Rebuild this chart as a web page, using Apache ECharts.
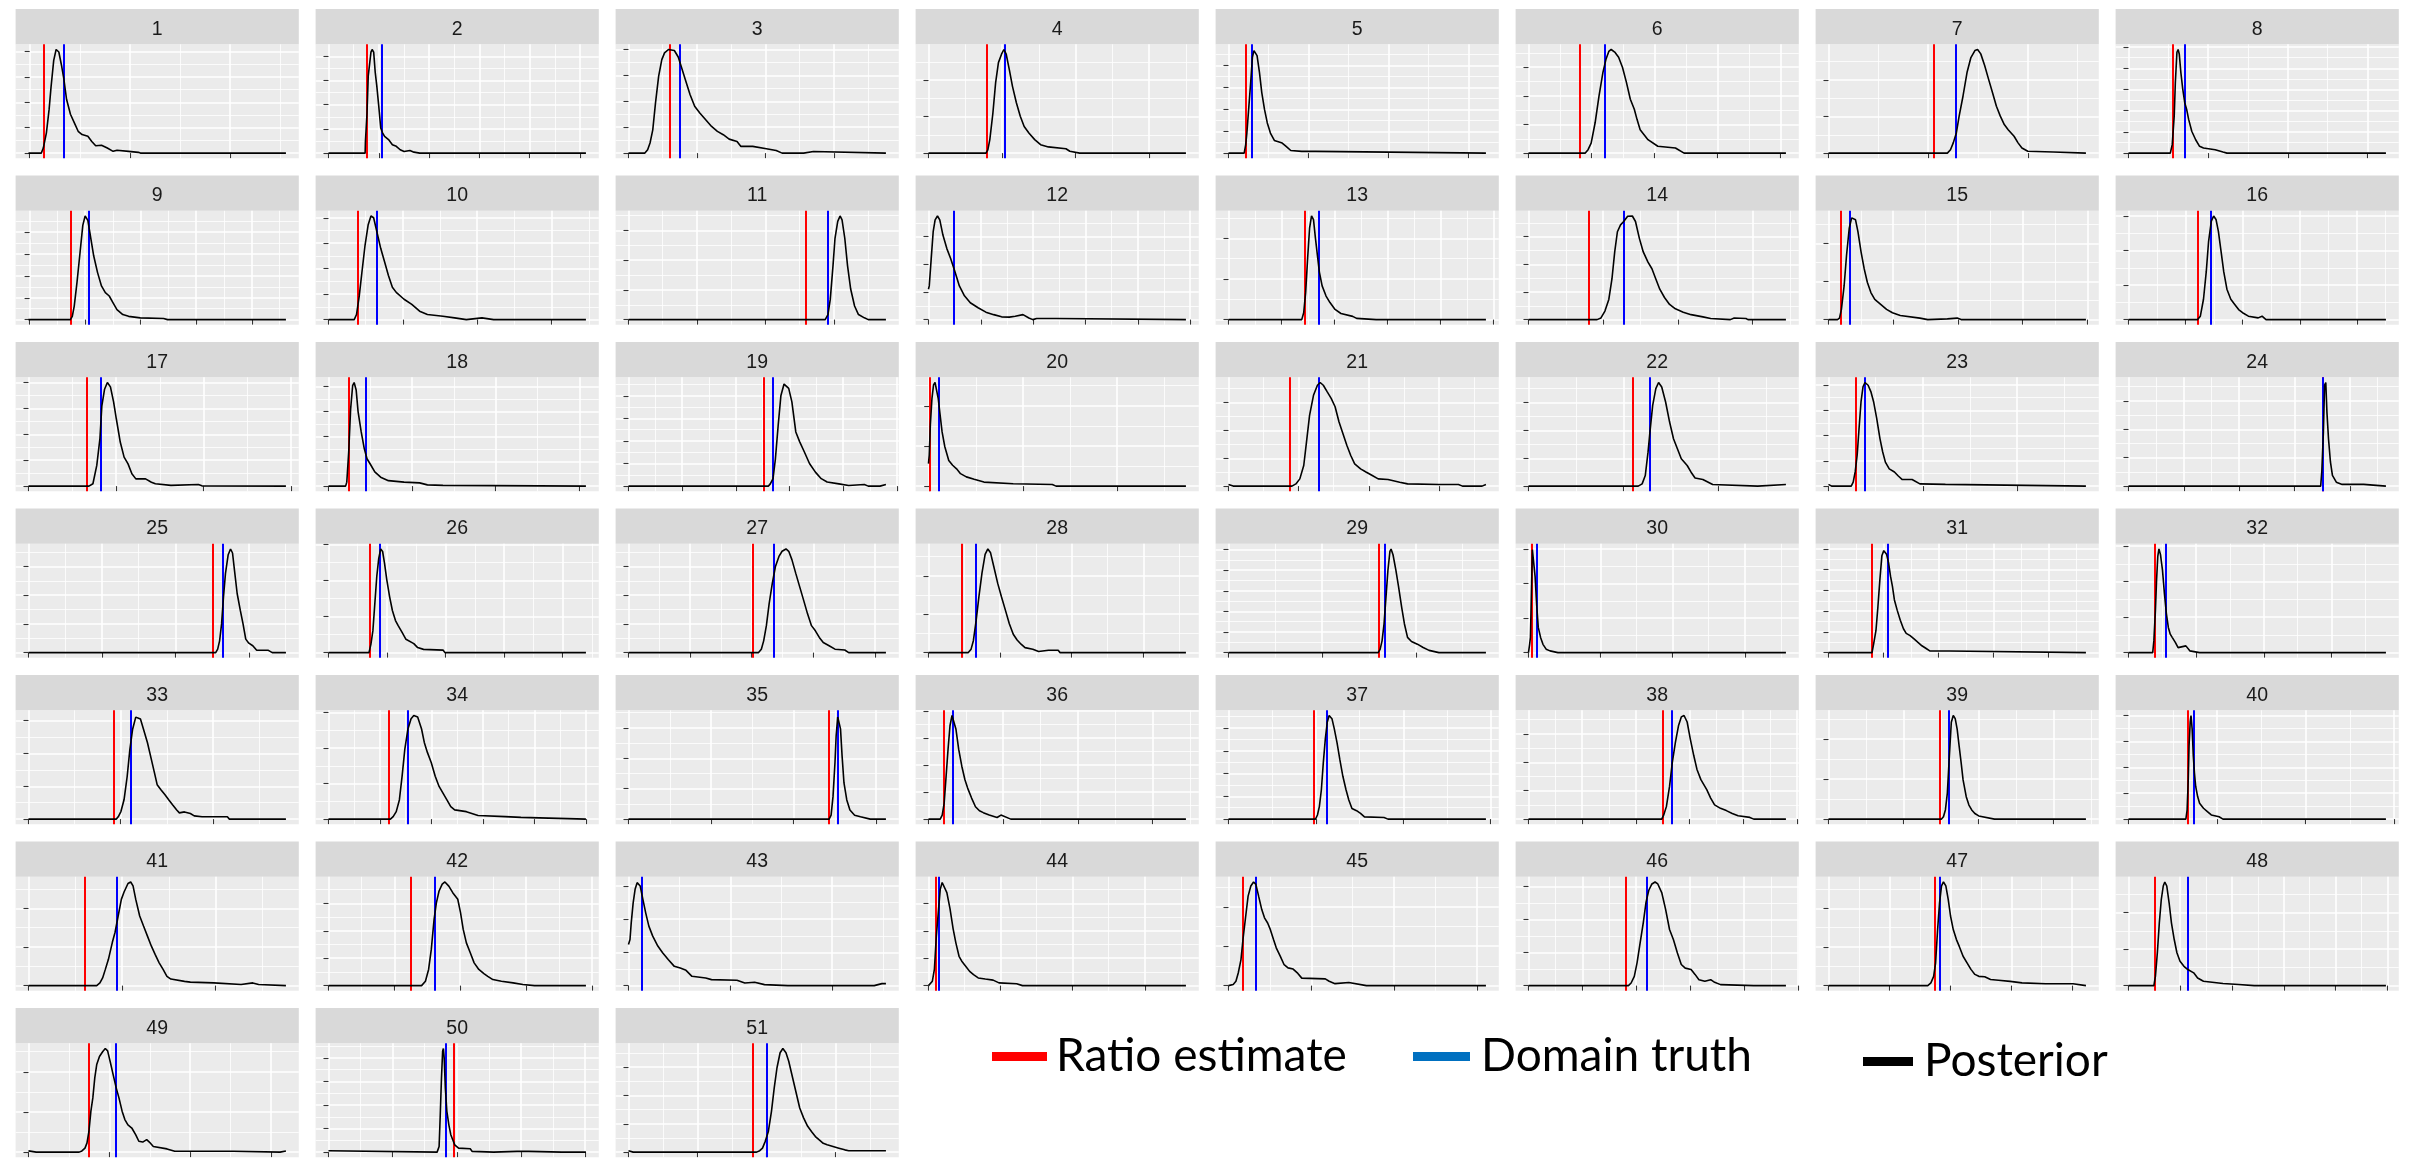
<!DOCTYPE html>
<html><head><meta charset="utf-8">
<script src="https://cdn.jsdelivr.net/npm/echarts@6/dist/echarts.min.js"></script>
<style>html,body{margin:0;padding:0;background:#fff}#chart{width:2414px;height:1163px}</style>
</head><body><div id="chart"></div>
<script>
// ---- DATA (x in units of each panel's x tick spacing, y in units of its y tick spacing) ----
const panelLabels = ['1','2','3','4','5','6','7','8','9','10','11','12','13','14','15','16','17','18','19','20','21','22','23','24','25','26','27','28','29','30','31','32','33','34','35','36','37','38','39','40','41','42','43','44','45','46','47','48','49','50','51'];
const legendLabels = ['Ratio estimate', 'Domain truth', 'Posterior'];
const ratioEstimate = [0.136,0.767,0.612,0.786,0.215,0.815,1.063,0.564,0.741,0.398,2.593,null,1.442,0.813,0.188,1.224,0.655,0.238,2.518,0.008,0.866,1.097,0.295,3.506,2.512,0.712,2.016,0.464,1.598,0.043,0.791,0.387,0.918,1.172,2.43,0.2,0.982,2.496,1.476,0.666,0.596,1.249,null,0.098,0.166,1.796,1.739,0.506,0.748,1.954,1.798];
const domainTruth = [0.337,1.047,0.75,1.041,0.289,1.213,1.283,0.706,1.056,0.649,2.914,0.485,1.701,1.269,0.333,1.436,0.834,0.438,2.693,0.096,1.285,1.278,0.378,3.506,2.639,0.872,2.347,0.655,1.665,0.114,1.077,0.554,1.108,1.528,2.53,0.33,1.126,2.672,1.597,0.737,0.938,1.621,0.131,0.141,0.327,2.196,1.823,1.14,1.085,1.833,2.002];

const post1 = [[-0.012,0],[0.116,0],[0.136,0.2],[0.167,0.8],[0.194,1.72],[0.213,2.59],[0.240,3.65],[0.264,4.08],[0.291,3.98],[0.318,3.45],[0.341,2.92],[0.368,2.12],[0.407,1.53],[0.446,1.19],[0.484,0.86],[0.523,0.73],[0.581,0.66],[0.620,0.46],[0.659,0.29],[0.717,0.31],[0.775,0.2],[0.833,0.07],[0.872,0.11],[0.988,0.07],[1.085,0.03],[1.105,0],[2.558,0]];
const post2 = [[0,0],[0.729,0],[0.735,0.49],[0.767,1.67],[0.791,3.19],[0.845,4.17],[0.868,4.28],[0.899,4.17],[0.930,3.33],[0.961,2.78],[1.0,1.94],[1.039,1.04],[1.078,0.83],[1.116,0.69],[1.194,0.56],[1.271,0.35],[1.349,0.28],[1.426,0.14],[1.504,0.07],[1.62,0.11],[1.70,0.04],[1.814,0],[5.12,0]];
const post3 = [[0,0],[0.24,0],[0.28,0.13],[0.315,0.39],[0.355,0.9],[0.395,1.94],[0.441,2.97],[0.487,3.61],[0.527,3.87],[0.584,4.0],[0.67,3.96],[0.727,3.71],[0.773,3.32],[0.83,2.84],[0.899,2.26],[0.967,1.81],[1.042,1.55],[1.128,1.29],[1.214,1.03],[1.299,0.84],[1.385,0.71],[1.471,0.54],[1.586,0.45],[1.643,0.26],[1.815,0.26],[2.015,0.17],[2.158,0.1],[2.244,0],[2.559,0],[2.587,0.06],[2.702,0.06],[2.73,0],[3.761,0]];
const post4 = [[0,0],[0.781,0],[0.807,0.09],[0.834,0.37],[0.876,1.1],[0.913,1.93],[0.951,2.48],[0.993,2.71],[1.025,2.84],[1.057,2.71],[1.099,2.29],[1.142,1.83],[1.195,1.38],[1.248,1.01],[1.301,0.73],[1.365,0.55],[1.444,0.37],[1.524,0.23],[1.63,0.17],[1.869,0.12],[1.922,0.05],[2.055,0],[3.5,0]];
const post5 = [[0,0],[0.196,0],[0.215,0.38],[0.23,0.92],[0.255,2.15],[0.279,3.31],[0.299,4.38],[0.318,4.69],[0.338,4.74],[0.357,4.46],[0.387,3.69],[0.416,2.77],[0.45,2.0],[0.485,1.38],[0.524,0.92],[0.573,0.58],[0.671,0.46],[0.72,0.31],[0.778,0.12],[0.915,0.08],[1.087,0.08],[1.111,0],[3.216,0]];
const post6 = [[0,0],[0.902,0],[0.946,0.12],[0.995,0.35],[1.058,1.06],[1.12,2.0],[1.182,2.82],[1.232,3.29],[1.275,3.55],[1.313,3.62],[1.369,3.53],[1.431,3.35],[1.493,2.99],[1.555,2.47],[1.617,1.88],[1.68,1.53],[1.723,1.18],[1.773,0.82],[1.897,0.47],[2.053,0.24],[2.333,0.18],[2.47,0],[4.087,0]];
const post7 = [[0,0],[1.193,0],[1.224,0.09],[1.252,0.28],[1.283,0.55],[1.311,1.01],[1.35,1.56],[1.39,2.2],[1.429,2.61],[1.469,2.8],[1.496,2.83],[1.528,2.71],[1.567,2.39],[1.606,2.02],[1.646,1.65],[1.685,1.28],[1.724,1.01],[1.764,0.78],[1.803,0.64],[1.862,0.46],[1.902,0.28],[1.941,0.14],[2.0,0.05],[2.256,0.03],[2.276,0],[2.583,0]];
const post8 = [[0,0],[0.525,0],[0.549,0.4],[0.574,1.75],[0.588,3.33],[0.608,4.76],[0.623,4.89],[0.637,4.68],[0.657,3.81],[0.681,3.02],[0.706,2.38],[0.73,2.06],[0.755,1.59],[0.794,1.03],[0.843,0.63],[0.892,0.32],[0.941,0.24],[1.088,0.16],[1.186,0.05],[1.235,0],[3.23,0]];
const post9 = [[-0.02,0],[0.734,0],[0.769,0.15],[0.804,0.62],[0.853,1.69],[0.909,3.08],[0.958,4.31],[1.0,4.74],[1.049,4.54],[1.084,4.0],[1.154,2.92],[1.224,2.15],[1.294,1.54],[1.364,1.23],[1.434,1.08],[1.503,0.77],[1.573,0.46],[1.678,0.23],[1.783,0.15],[1.993,0.08],[2.413,0.05],[2.483,0],[4.615,0]];
const post10 = [[0,0],[0.346,0],[0.377,0.2],[0.414,0.93],[0.45,1.87],[0.492,2.93],[0.534,3.73],[0.571,4.07],[0.607,4.0],[0.649,3.47],[0.702,2.8],[0.754,2.27],[0.806,1.73],[0.859,1.27],[0.911,1.07],[1.016,0.8],[1.12,0.6],[1.225,0.33],[1.33,0.2],[1.539,0.13],[1.696,0.07],[1.853,0],[2.063,0.07],[2.22,0],[3.461,0]];
const post11 = [[0,0],[2.874,0],[2.914,0.17],[2.948,0.68],[2.988,1.82],[3.017,2.74],[3.057,3.31],[3.091,3.49],[3.12,3.36],[3.16,2.74],[3.2,1.82],[3.246,1.03],[3.303,0.46],[3.36,0.17],[3.446,0.06],[3.503,0],[3.761,0]];
const post12 = [[0,1.1],[0.015,1.22],[0.052,2.2],[0.09,3.18],[0.127,3.61],[0.172,3.75],[0.216,3.61],[0.276,3.06],[0.351,2.57],[0.425,2.2],[0.5,1.77],[0.59,1.22],[0.687,0.86],[0.799,0.61],[0.948,0.43],[1.097,0.27],[1.246,0.18],[1.396,0.1],[1.545,0.09],[1.657,0.12],[1.806,0.18],[1.918,0.06],[1.993,0],[2.067,0.04],[2.44,0.04],[2.478,0],[4.918,0]];
const post13 = [[0,0],[1.383,0],[1.42,0.17],[1.457,0.67],[1.494,1.5],[1.531,2.25],[1.568,2.55],[1.605,2.46],[1.642,2.0],[1.679,1.58],[1.716,1.17],[1.768,0.83],[1.842,0.58],[1.916,0.42],[2.012,0.25],[2.123,0.15],[2.345,0.08],[2.419,0.03],[2.788,0],[4.86,0]];
const post14 = [[0,0],[0.918,0],[0.97,0.06],[1.023,0.31],[1.075,0.73],[1.117,1.47],[1.154,2.45],[1.19,3.18],[1.232,3.43],[1.274,3.55],[1.327,3.74],[1.39,3.75],[1.432,3.55],[1.484,2.94],[1.536,2.45],[1.599,2.08],[1.652,1.84],[1.704,1.47],[1.757,1.1],[1.82,0.8],[1.888,0.55],[1.966,0.39],[2.071,0.27],[2.176,0.18],[2.334,0.1],[2.438,0.04],[2.701,0],[2.753,0.06],[2.91,0.04],[2.937,0],[3.445,0]];
const post15 = [[0,0],[0.139,0],[0.17,0.04],[0.2,0.27],[0.242,0.89],[0.279,1.69],[0.321,2.4],[0.358,2.67],[0.382,2.72],[0.418,2.62],[0.455,2.31],[0.503,1.78],[0.552,1.33],[0.6,0.98],[0.655,0.71],[0.715,0.53],[0.806,0.4],[0.897,0.27],[0.988,0.18],[1.109,0.11],[1.412,0.04],[1.533,0],[1.836,0.02],[1.988,0.04],[2.048,0],[3.976,0]];
const post16 = [[0,0],[1.21,0],[1.258,0.1],[1.313,0.59],[1.361,1.38],[1.402,2.26],[1.45,2.85],[1.491,3.0],[1.532,2.9],[1.573,2.56],[1.621,1.97],[1.668,1.38],[1.723,0.88],[1.791,0.59],[1.86,0.44],[1.928,0.29],[1.997,0.2],[2.099,0.1],[2.27,0.05],[2.338,0.1],[2.407,0],[4.506,0]];
const post17 = [[0,0],[0.691,0],[0.736,0.09],[0.78,0.8],[0.816,1.83],[0.838,3.1],[0.869,3.74],[0.901,4.0],[0.936,3.83],[0.972,3.25],[1.003,2.6],[1.048,1.7],[1.092,1.12],[1.137,0.86],[1.181,0.48],[1.226,0.28],[1.337,0.28],[1.404,0.15],[1.449,0.09],[1.627,0.03],[1.94,0.06],[1.98,0.01],[2.94,0]];
const post18 = [[0,0],[0.205,0],[0.219,0.16],[0.242,1.37],[0.265,3.1],[0.289,4.04],[0.307,4.17],[0.331,3.87],[0.354,3.0],[0.391,2.19],[0.428,1.51],[0.461,1.1],[0.508,0.84],[0.554,0.57],[0.624,0.36],[0.717,0.22],[0.904,0.16],[1.09,0.13],[1.183,0.05],[1.369,0.03],[3.079,0]];
const post19 = [[0,0],[2.606,0],[2.642,0.1],[2.693,0.33],[2.737,1.2],[2.788,2.67],[2.839,4.0],[2.898,4.52],[2.934,4.59],[2.985,4.33],[3.044,3.73],[3.117,2.4],[3.19,1.96],[3.277,1.51],[3.372,1.0],[3.482,0.62],[3.591,0.33],[3.701,0.18],[3.92,0.1],[4.102,0.03],[4.394,0.07],[4.467,0],[4.686,0],[4.796,0.07]];
const post20 = [[-0.008,0.56],[0,0.77],[0.012,1.52],[0.029,2.18],[0.046,2.52],[0.062,2.58],[0.083,2.56],[0.096,2.18],[0.112,1.85],[0.137,1.35],[0.166,0.98],[0.208,0.64],[0.249,0.52],[0.291,0.43],[0.333,0.31],[0.395,0.23],[0.478,0.17],[0.582,0.1],[0.894,0.06],[1.31,0.04],[1.35,0],[2.732,0]];
const post21 = [[0,0.06],[0.067,0],[0.905,0],[0.961,0.08],[1.017,0.26],[1.073,0.74],[1.112,1.58],[1.156,2.54],[1.212,3.26],[1.268,3.62],[1.307,3.72],[1.352,3.62],[1.408,3.38],[1.464,3.15],[1.52,2.85],[1.575,2.31],[1.631,1.89],[1.687,1.47],[1.743,1.1],[1.799,0.8],[1.883,0.62],[1.966,0.5],[2.05,0.38],[2.134,0.26],[2.274,0.24],[2.441,0.14],[2.553,0.08],[3.0,0.06],[3.279,0.06],[3.335,0],[3.615,0],[3.67,0.06]];
const post22 = [[0,0],[1.155,0],[1.196,0.08],[1.229,0.38],[1.258,1.22],[1.278,1.94],[1.307,2.9],[1.34,3.5],[1.369,3.72],[1.402,3.56],[1.443,3.02],[1.485,2.3],[1.526,1.7],[1.567,1.34],[1.608,0.98],[1.67,0.74],[1.711,0.5],[1.753,0.29],[1.835,0.24],[1.938,0.06],[2.412,0],[2.709,0.06]];
const post23 = [[0,0.07],[0.033,0],[0.241,0],[0.262,0.16],[0.283,0.56],[0.304,1.22],[0.324,2.28],[0.345,3.34],[0.366,3.93],[0.387,4.1],[0.42,3.99],[0.449,3.74],[0.478,3.34],[0.511,2.68],[0.545,1.89],[0.574,1.36],[0.603,0.95],[0.644,0.68],[0.699,0.56],[0.74,0.4],[0.782,0.26],[0.886,0.26],[0.969,0.09],[1.239,0.07],[1.26,0],[2.728,0]];
const post24 = [[0,0],[3.471,0],[3.492,0.55],[3.52,1.91],[3.541,3.56],[3.563,3.65],[3.584,2.59],[3.612,1.67],[3.647,0.85],[3.683,0.38],[3.753,0.14],[3.859,0.06],[4.247,0.06],[4.282,0],[4.649,0]];
const post25 = [[0,0],[2.549,0],[2.576,0.12],[2.602,0.41],[2.629,1.0],[2.655,1.94],[2.682,2.76],[2.719,3.41],[2.751,3.61],[2.778,3.47],[2.804,2.88],[2.841,2.06],[2.884,1.47],[2.921,1.0],[2.958,0.47],[3.0,0.33],[3.054,0.24],[3.107,0.08],[3.266,0.08],[3.319,0],[3.505,0]];
const post26 = [[0,0],[0.692,0],[0.725,0.23],[0.759,0.61],[0.792,1.36],[0.825,2.11],[0.859,2.62],[0.892,2.88],[0.925,2.81],[0.958,2.48],[0.998,2.01],[1.045,1.55],[1.092,1.17],[1.145,0.89],[1.191,0.75],[1.258,0.56],[1.324,0.37],[1.458,0.25],[1.524,0.14],[1.624,0.09],[1.957,0.07],[1.99,0],[4.399,0]];
const post27 = [[0,0],[2.111,0],[2.156,0.12],[2.194,0.41],[2.238,0.94],[2.283,1.71],[2.334,2.41],[2.385,3.0],[2.442,3.35],[2.493,3.53],[2.556,3.61],[2.601,3.53],[2.652,3.24],[2.715,2.76],[2.779,2.29],[2.843,1.82],[2.906,1.35],[2.97,0.94],[3.033,0.76],[3.097,0.53],[3.161,0.35],[3.256,0.24],[3.351,0.12],[3.51,0.09],[3.574,0],[4.178,0]];
const post28 = [[0,0],[0.556,0],[0.595,0.09],[0.627,0.31],[0.666,0.84],[0.704,1.45],[0.747,2.07],[0.791,2.56],[0.829,2.7],[0.867,2.6],[0.911,2.25],[0.966,1.81],[1.02,1.45],[1.075,1.1],[1.129,0.75],[1.184,0.48],[1.238,0.33],[1.293,0.22],[1.348,0.13],[1.457,0.09],[1.538,0.03],[1.675,0.06],[1.811,0.06],[1.838,0],[3.595,0]];
const post29 = [[0,0],[1.598,0],[1.619,0.16],[1.64,0.57],[1.661,1.39],[1.682,2.7],[1.703,4.02],[1.724,4.92],[1.736,5.03],[1.757,4.75],[1.787,4.02],[1.816,3.2],[1.849,2.21],[1.879,1.39],[1.912,0.74],[1.954,0.54],[2.017,0.41],[2.079,0.25],[2.142,0.11],[2.247,0],[2.749,0]];
const post30 = [[0,0],[0.016,0.24],[0.027,0.44],[0.043,1.91],[0.054,2.98],[0.071,3.0],[0.092,2.2],[0.114,1.37],[0.136,0.73],[0.168,0.44],[0.201,0.24],[0.245,0.1],[0.299,0.05],[0.408,0],[3.571,0]];
const post31 = [[0,0],[0.791,0],[0.82,0.41],[0.863,1.07],[0.898,2.21],[0.934,3.52],[0.97,4.67],[1.005,4.92],[1.027,5.0],[1.055,4.75],[1.091,4.34],[1.127,3.69],[1.162,3.2],[1.198,2.54],[1.248,2.05],[1.305,1.56],[1.362,1.15],[1.412,0.93],[1.483,0.82],[1.554,0.66],[1.626,0.49],[1.697,0.33],[1.768,0.21],[1.84,0.08],[2.196,0.08],[2.217,0],[4.677,0]];
const post32 = [[0,0],[0.358,0],[0.375,0.33],[0.398,1.19],[0.415,2.05],[0.433,2.71],[0.45,2.92],[0.473,2.76],[0.502,2.33],[0.531,1.67],[0.56,1.1],[0.589,0.71],[0.617,0.52],[0.646,0.43],[0.692,0.29],[0.733,0.14],[0.848,0.19],[0.906,0.05],[1.05,0],[3.803,0]];
const post33 = [[0,0],[0.951,0],[0.973,0.07],[1.002,0.23],[1.036,0.59],[1.07,1.3],[1.099,2.12],[1.129,2.74],[1.163,3.11],[1.184,3.16],[1.214,3.05],[1.247,2.74],[1.29,2.33],[1.332,1.82],[1.366,1.41],[1.395,1.05],[1.438,0.89],[1.48,0.74],[1.522,0.58],[1.564,0.43],[1.607,0.28],[1.636,0.19],[1.691,0.22],[1.755,0.17],[1.797,0.1],[1.882,0.07],[2.156,0.07],[2.178,0],[2.791,0]];
const post34 = [[0,0],[1.203,0],[1.256,0.07],[1.316,0.21],[1.377,0.54],[1.43,1.21],[1.483,1.97],[1.543,2.54],[1.604,2.83],[1.657,2.92],[1.732,2.88],[1.808,2.54],[1.861,2.16],[1.921,1.88],[1.997,1.59],[2.073,1.21],[2.148,0.92],[2.224,0.73],[2.3,0.54],[2.375,0.35],[2.451,0.26],[2.678,0.21],[2.905,0.1],[3.434,0.07],[3.737,0.05],[3.775,0],[5.0,0]];
const post35 = [[0,0],[2.43,0],[2.454,0.13],[2.477,0.74],[2.501,1.86],[2.515,2.74],[2.534,3.36],[2.549,3.41],[2.568,2.97],[2.587,2.08],[2.61,1.19],[2.644,0.63],[2.682,0.3],[2.739,0.13],[2.81,0.08],[2.928,0],[3.118,0]];
const post36 = [[0,0],[0.157,0],[0.184,0.15],[0.21,0.59],[0.236,1.59],[0.262,2.59],[0.288,3.46],[0.315,3.84],[0.341,3.78],[0.367,3.34],[0.404,2.59],[0.446,1.96],[0.488,1.46],[0.524,1.15],[0.577,0.78],[0.629,0.46],[0.682,0.31],[0.734,0.24],[0.813,0.15],[0.918,0.06],[0.97,0.15],[0.996,0.09],[1.101,0],[3.445,0]];
const post37 = [[0,0],[0.996,0],[1.018,0.18],[1.04,0.55],[1.063,1.29],[1.085,2.47],[1.108,3.51],[1.13,4.25],[1.152,4.55],[1.184,4.41],[1.211,3.96],[1.242,3.36],[1.274,2.62],[1.309,1.88],[1.345,1.29],[1.377,0.84],[1.413,0.47],[1.466,0.37],[1.511,0.25],[1.556,0.1],[1.78,0.07],[1.825,0],[2.946,0]];
const post38 = [[0,0],[2.482,0],[2.518,0.14],[2.569,0.44],[2.628,1.15],[2.679,1.99],[2.737,2.7],[2.796,3.3],[2.847,3.6],[2.898,3.65],[2.956,3.42],[3.015,2.82],[3.08,2.23],[3.139,1.75],[3.212,1.39],[3.321,1.04],[3.394,0.74],[3.467,0.5],[3.577,0.38],[3.686,0.3],[3.796,0.2],[3.905,0.12],[4.124,0.06],[4.197,0],[4.796,0]];
const post39 = [[0,0],[1.508,0],[1.534,0.06],[1.56,0.23],[1.586,0.65],[1.613,1.58],[1.639,2.42],[1.665,2.59],[1.691,2.51],[1.717,2.25],[1.743,1.83],[1.77,1.41],[1.796,0.98],[1.838,0.56],[1.874,0.35],[1.911,0.23],[1.953,0.14],[2.005,0.08],[2.215,0],[3.435,0]];
const post40 = [[0,0],[0.648,0],[0.662,0.35],[0.675,1.52],[0.684,2.83],[0.697,3.74],[0.706,4.0],[0.719,3.48],[0.732,2.44],[0.745,1.78],[0.759,1.26],[0.781,0.87],[0.803,0.61],[0.847,0.42],[0.891,0.29],[0.935,0.16],[1.023,0.09],[1.067,0],[2.907,0]];
const post41 = [[0,0],[0.729,0],[0.763,0.07],[0.792,0.2],[0.821,0.42],[0.854,0.68],[0.896,1.12],[0.925,1.38],[0.958,1.8],[0.992,2.23],[1.021,2.42],[1.063,2.64],[1.092,2.68],[1.117,2.58],[1.146,2.23],[1.188,1.8],[1.229,1.54],[1.271,1.28],[1.313,1.02],[1.354,0.8],[1.396,0.59],[1.438,0.42],[1.479,0.24],[1.521,0.17],[1.667,0.11],[1.729,0.09],[1.979,0.07],[2.271,0.03],[2.396,0.07],[2.458,0.03],[2.75,0]];
const post42 = [[0,0],[1.414,0],[1.473,0.16],[1.521,0.59],[1.562,1.32],[1.604,2.41],[1.639,3.02],[1.68,3.45],[1.728,3.7],[1.769,3.78],[1.828,3.63],[1.888,3.39],[1.964,3.15],[2.006,2.66],[2.047,2.05],[2.095,1.56],[2.154,1.2],[2.213,0.83],[2.284,0.59],[2.361,0.44],[2.42,0.34],[2.497,0.22],[2.627,0.16],[2.805,0.1],[2.953,0.04],[3.13,0],[3.911,0]];
const post43 = [[0,1.24],[0.015,1.39],[0.027,1.89],[0.046,2.49],[0.065,2.9],[0.085,3.1],[0.096,3.12],[0.115,3.0],[0.142,2.59],[0.169,2.19],[0.2,1.79],[0.238,1.49],[0.288,1.19],[0.335,0.99],[0.392,0.78],[0.45,0.58],[0.508,0.53],[0.565,0.46],[0.623,0.28],[0.758,0.23],[0.815,0.18],[1.065,0.16],[1.142,0.08],[1.238,0.1],[1.335,0.03],[1.565,0],[2.258,0],[2.277,0.06],[2.412,0],[2.488,0.06],[2.527,0.06]];
const post44 = [[0,0],[0.027,0],[0.054,0.16],[0.082,0.59],[0.109,1.8],[0.136,2.66],[0.163,3.51],[0.19,3.76],[0.217,3.78],[0.255,3.39],[0.299,2.8],[0.342,2.07],[0.38,1.56],[0.424,1.07],[0.462,0.89],[0.516,0.71],[0.571,0.52],[0.625,0.4],[0.69,0.28],[0.788,0.24],[0.897,0.2],[0.978,0.1],[1.223,0.07],[1.304,0],[3.571,0]];
const post45 = [[0,0],[0.057,0.03],[0.09,0.11],[0.118,0.32],[0.151,0.66],[0.175,1.17],[0.208,1.76],[0.237,2.27],[0.27,2.53],[0.303,2.63],[0.331,2.57],[0.364,2.27],[0.402,1.93],[0.435,1.72],[0.473,1.59],[0.506,1.42],[0.544,1.17],[0.577,0.96],[0.625,0.75],[0.672,0.53],[0.719,0.45],[0.781,0.42],[0.838,0.31],[0.885,0.19],[1.169,0.17],[1.216,0.11],[1.287,0.05],[1.453,0.08],[1.666,0],[3.109,0]];
const post46 = [[0,0],[1.855,0],[1.905,0.08],[1.964,0.28],[2.015,0.69],[2.073,1.3],[2.131,1.91],[2.182,2.53],[2.233,2.89],[2.291,3.08],[2.349,3.14],[2.4,3.08],[2.473,2.82],[2.545,2.31],[2.618,1.7],[2.691,1.39],[2.764,0.99],[2.836,0.64],[2.909,0.53],[3.018,0.49],[3.091,0.34],[3.164,0.18],[3.273,0.13],[3.382,0.18],[3.455,0.1],[3.564,0.03],[4.182,0],[4.778,0]];
const post47 = [[0,0],[1.63,0],[1.681,0.07],[1.726,0.24],[1.758,0.59],[1.791,1.45],[1.823,2.14],[1.855,2.58],[1.887,2.68],[1.926,2.58],[1.965,2.23],[2.003,1.8],[2.048,1.45],[2.1,1.19],[2.145,1.02],[2.209,0.76],[2.274,0.59],[2.338,0.42],[2.403,0.29],[2.467,0.24],[2.564,0.23],[2.66,0.16],[2.789,0.14],[2.982,0.11],[3.176,0.07],[3.562,0.05],[4.013,0.05],[4.225,0]];
const post48 = [[0,0],[0.491,0],[0.521,0.26],[0.558,0.9],[0.596,1.72],[0.634,2.36],[0.672,2.73],[0.702,2.84],[0.74,2.73],[0.785,2.27],[0.83,1.72],[0.883,1.27],[0.936,0.9],[0.996,0.67],[1.072,0.53],[1.147,0.44],[1.26,0.35],[1.336,0.21],[1.449,0.12],[1.826,0.06],[2.128,0.03],[2.43,0],[4.974,0]];
const post49 = [[0,0.03],[0.096,0],[0.627,0],[0.661,0.03],[0.699,0.1],[0.724,0.23],[0.748,0.52],[0.772,1.02],[0.796,1.35],[0.82,1.85],[0.844,2.18],[0.878,2.38],[0.917,2.5],[0.95,2.58],[0.979,2.52],[1.013,2.23],[1.047,1.93],[1.085,1.6],[1.119,1.35],[1.158,1.02],[1.192,0.81],[1.23,0.68],[1.278,0.6],[1.327,0.43],[1.365,0.27],[1.413,0.25],[1.462,0.31],[1.495,0.25],[1.544,0.14],[1.713,0.08],[1.809,0.02],[2.533,0.02],[2.557,0],[3.111,0],[3.184,0.03]];
const post50 = [[0,0.06],[0.024,0],[1.693,0],[1.724,0.24],[1.742,1.59],[1.761,3.15],[1.779,4.28],[1.791,4.4],[1.803,4.0],[1.821,2.72],[1.845,1.73],[1.876,1.16],[1.906,0.74],[1.967,0.31],[2.027,0.17],[2.209,0.14],[2.24,0.03],[2.573,0],[2.938,0.03],[3.12,0.03],[3.636,0],[3.666,0.06],[3.727,0],[4.012,0]];
const post51 = [[0,0.05],[0.068,0],[1.855,0],[1.9,0.05],[1.94,0.14],[1.98,0.38],[2.025,0.73],[2.07,1.44],[2.11,2.27],[2.15,2.98],[2.195,3.51],[2.235,3.66],[2.28,3.51],[2.32,3.21],[2.365,2.74],[2.422,2.15],[2.479,1.56],[2.535,1.21],[2.592,0.92],[2.649,0.73],[2.706,0.55],[2.762,0.43],[2.819,0.31],[2.876,0.26],[3.046,0.14],[3.131,0.08],[3.188,0.05],[3.727,0.05]];

const posterior = [post1,post2,post3,post4,post5,post6,post7,post8,post9,post10,post11,post12,post13,post14,post15,post16,post17,post18,post19,post20,post21,post22,post23,post24,post25,post26,post27,post28,post29,post30,post31,post32,post33,post34,post35,post36,post37,post38,post39,post40,post41,post42,post43,post44,post45,post46,post47,post48,post49,post50,post51];

// ---- LAYOUT / STYLE ----
const NCOL = 8;
const LEFT0 = 15.6, PITCH_X = 300, PLOT_W = 283.2;
const TOP0 = 9, PITCH_Y = 166.5, STRIP_H = 35.3, PLOT_H = 114;
const PANEL_BG = '#EBEBEB', STRIP_BG = '#D9D9D9', GRID_COL = '#FFFFFF';
const RED = '#FF0000', BLUE = '#0000FF';

function range(lo, hi, step, offset) {
  const out = [];
  for (let v = Math.ceil((lo - offset) / step) * step + offset; v <= hi + 1e-9; v += step) out.push(+v.toFixed(6));
  return out;
}

const grids = [], xAxes = [], yAxes = [], series = [], graphics = [];

posterior.forEach((pts, i) => {
  const c = i % NCOL, r = Math.floor(i / NCOL);
  const left = LEFT0 + PITCH_X * c;
  const stripTop = TOP0 + PITCH_Y * r;
  const top = stripTop + STRIP_H;

  const xs = pts.map(p => p[0]), ys = pts.map(p => p[1]);
  const xLo = Math.min(...xs), xHi = Math.max(...xs);
  const yLo = Math.min(0, ...ys), yHi = Math.max(...ys);
  const xPad = 0.05 * (xHi - xLo), yPad = 0.05 * (yHi - yLo);
  const xMin = xLo - xPad, xMax = xHi + xPad, yMin = yLo - yPad, yMax = yHi + yPad;

  grids.push({ left, top, width: PLOT_W, height: PLOT_H, show: true, backgroundColor: PANEL_BG, borderWidth: 0, containLabel: false });

  const common = { type: 'value', gridIndex: i, axisLine: { show: false }, axisLabel: { show: false } };
  xAxes.push(Object.assign({}, common, {
    min: xMin, max: xMax, position: 'bottom',
    axisTick: { show: true, length: 5, lineStyle: { color: '#333333', width: 1.1 }, customValues: range(xMin, xMax, 1, 0) },
    splitLine: { show: true, lineStyle: { color: GRID_COL, width: 1.6 } }
  }));
  xAxes.push(Object.assign({}, common, {
    min: xMin, max: xMax, position: 'bottom',
    axisTick: { show: false, customValues: range(xMin, xMax, 1, 0.5) },
    splitLine: { show: true, lineStyle: { color: GRID_COL, width: 0.8 } }
  }));
  yAxes.push(Object.assign({}, common, {
    min: yMin, max: yMax, position: 'left',
    axisTick: { show: true, length: 5, lineStyle: { color: '#333333', width: 1.1 }, customValues: range(yMin, yMax, 1, 0) },
    splitLine: { show: true, lineStyle: { color: GRID_COL, width: 1.6 } }
  }));
  yAxes.push(Object.assign({}, common, {
    min: yMin, max: yMax, position: 'left',
    axisTick: { show: false, customValues: range(yMin, yMax, 1, 0.5) },
    splitLine: { show: true, lineStyle: { color: GRID_COL, width: 0.8 } }
  }));

  const vlines = [];
  if (ratioEstimate[i] != null) vlines.push({ name: legendLabels[0], xAxis: ratioEstimate[i], lineStyle: { color: RED, width: 2, type: 'solid' } });
  if (domainTruth[i] != null) vlines.push({ name: legendLabels[1], xAxis: domainTruth[i], lineStyle: { color: BLUE, width: 2, type: 'solid' } });

  series.push({
    type: 'line', name: legendLabels[2], xAxisIndex: 2 * i, yAxisIndex: 2 * i,
    data: pts, showSymbol: false, symbol: 'none', smooth: false, z: 6,
    lineStyle: { color: '#000000', width: 1.6 },
    markLine: { silent: true, symbol: ['none', 'none'], animation: false, label: { show: false }, data: vlines }
  });

  graphics.push({ type: 'rect', shape: { x: left, y: stripTop, width: PLOT_W, height: STRIP_H }, style: { fill: STRIP_BG }, silent: true });
  graphics.push({ type: 'text', x: left + PLOT_W / 2, y: stripTop + 20.5, silent: true,
    style: { text: panelLabels[i], textAlign: 'center', textVerticalAlign: 'middle', font: '19.5px "Liberation Sans", Arial, sans-serif', fill: '#1A1A1A' } });
});

// legend (drawn as graphic items)
const legendItems = [
  { color: RED, box: [992, 1052, 55, 9], tx: 1056, ty: 1056 },
  { color: '#0070C0', box: [1413, 1052, 57, 9], tx: 1481, ty: 1056 },
  { color: '#000000', box: [1863, 1057, 50, 9], tx: 1924, ty: 1061 }
];
legendItems.forEach((it, k) => {
  graphics.push({ type: 'rect', shape: { x: it.box[0], y: it.box[1], width: it.box[2], height: it.box[3] }, style: { fill: it.color }, silent: true });
  graphics.push({ type: 'text', x: it.tx, y: it.ty, silent: true,
    style: { text: legendLabels[k], textAlign: 'left', textVerticalAlign: 'middle', font: '46px Lato, "Open Sans", sans-serif', fill: '#000000' } });
});

const chart = echarts.init(document.getElementById('chart'), null, { renderer: 'canvas', width: 2414, height: 1163 });
chart.setOption({
  backgroundColor: '#FFFFFF',
  animation: false,
  grid: grids,
  xAxis: xAxes,
  yAxis: yAxes,
  series: series,
  graphic: { elements: graphics }
});
</script>
</body></html>
